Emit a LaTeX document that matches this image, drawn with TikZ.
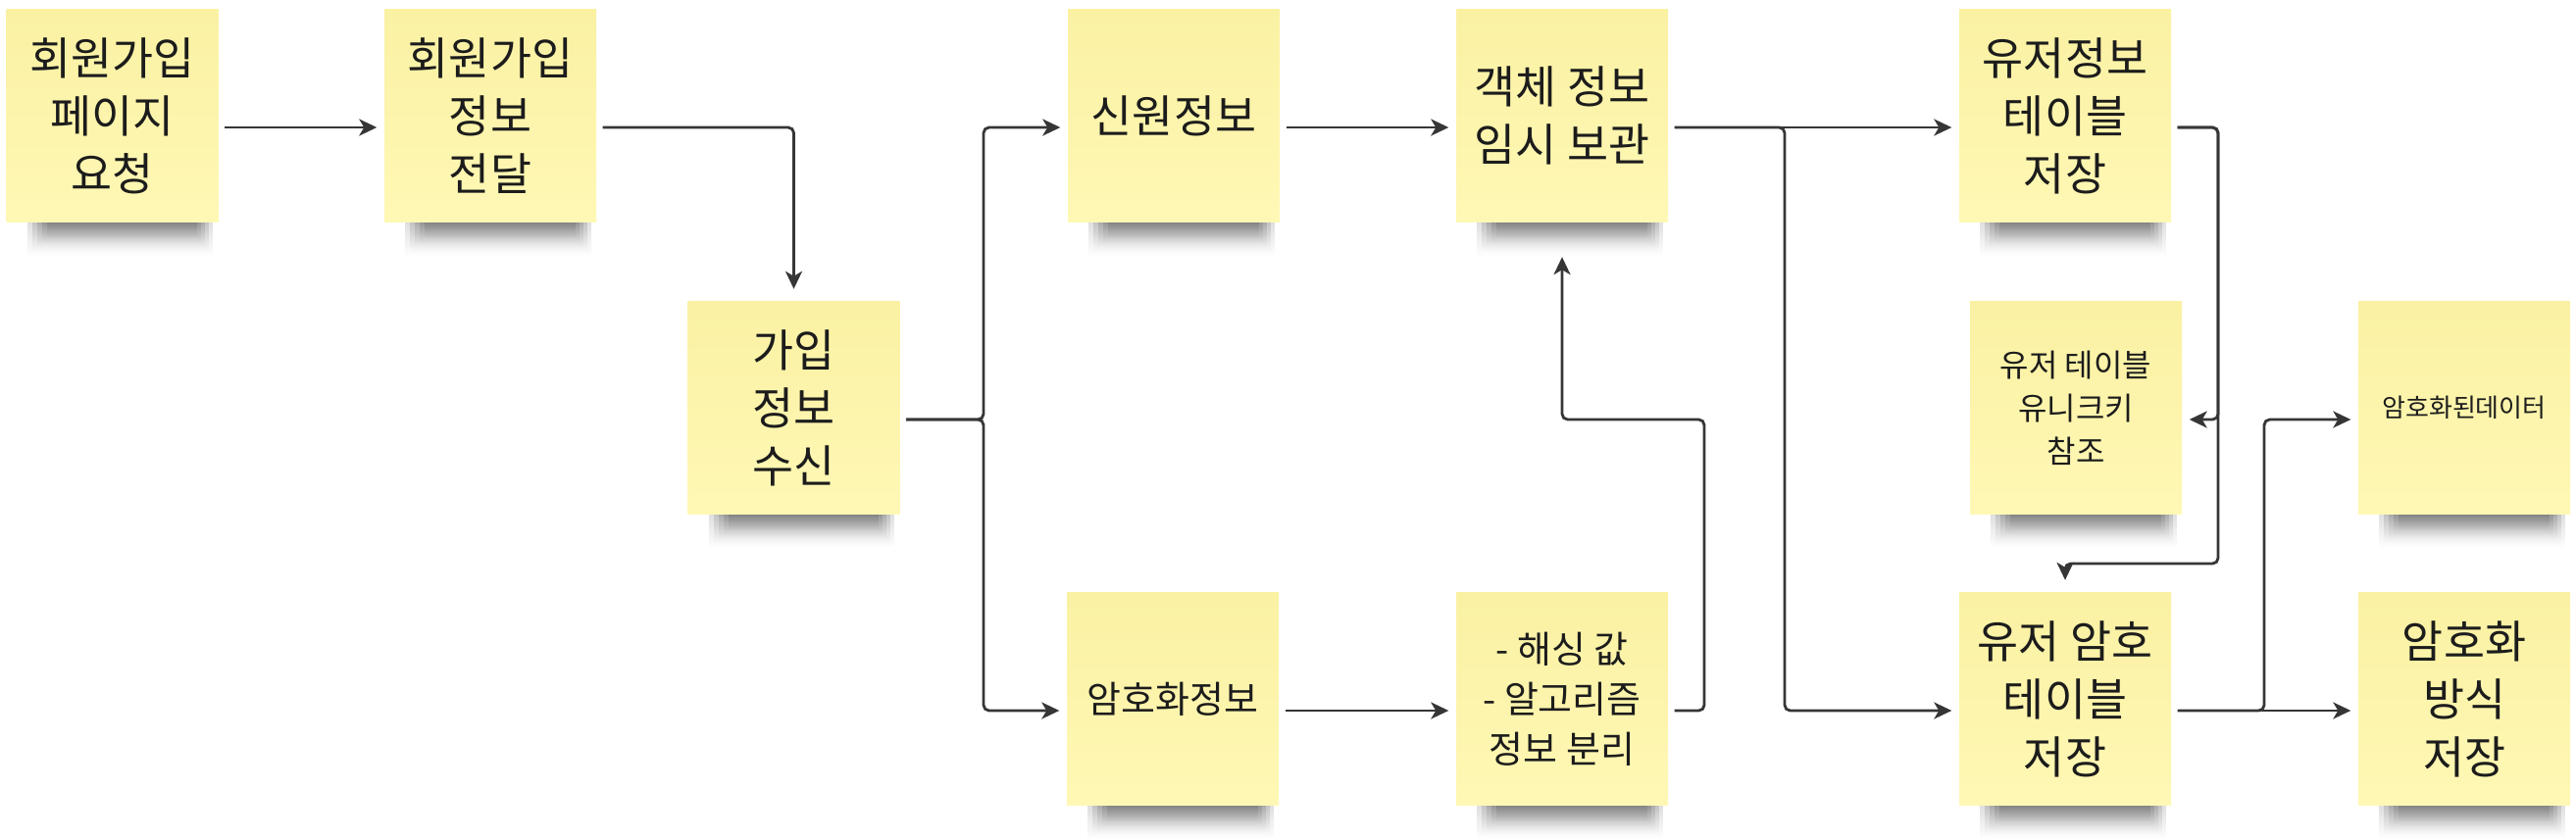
\documentclass[tikz,border=0pt]{standalone}
\usepackage{fontspec}
\setmainfont{Noto Sans CJK KR}
\usetikzlibrary{arrows.meta,backgrounds,fadings}
\definecolor{notetop}{HTML}{FAF1A3}
\definecolor{notebottom}{HTML}{FFF8B5}
\definecolor{linkgray}{HTML}{363636}
\definecolor{inkblack}{HTML}{1C1C1C}
\tikzfading[name=shadowfade, top color=transparent!10, bottom color=transparent!100]

\begin{document}
\begin{tikzpicture}[
    note/.style={rectangle,inner sep=0pt,minimum width=2.16cm,minimum height=2.17cm,
      top color=notetop,bottom color=notebottom,align=center,text=inkblack},
    bigtext/.style={font=\fontsize{13}{16.8}\selectfont},
    midtext/.style={font=\fontsize{10.8}{14.5}\selectfont},
    smalltext/.style={font=\fontsize{9.1}{12.5}\selectfont},
    tinytext/.style={font=\fontsize{7.4}{9}\selectfont},
    link/.style={draw=linkgray,line width=0.8pt,rounded corners=1.6pt,
      -{Stealth[length=1.8mm,width=1.7mm,inset=0.5mm]},shorten <=0.6mm,shorten >=0.7mm},
    noteshadow/.style={fill=black,fill opacity=0.16,path fading=shadowfade}
    ]

    \useasboundingbox (0,0) rectangle (26.27,8.56);

    \node(req) [note,bigtext] at (1.145,7.38) {회원가입\\페이지\\요청};
    \node(send) [note,bigtext] at (5.00,7.38) {회원가입\\정보\\전달};
    \node(recv) [note,bigtext] at (8.095,4.40) {가입\\정보\\수신};
    \node(ident) [note,bigtext] at (11.97,7.38) {신원정보};
    \node(temp) [note,bigtext] at (15.93,7.38) {객체 정보\\임시 보관};
    \node(cipher) [note,midtext] at (11.96,1.43) {암호화정보};
    \node(split) [note,midtext] at (15.93,1.43) {- 해싱 값\\- 알고리즘\\정보 분리};
    \node(usertbl) [note,bigtext] at (21.06,7.38) {유저정보\\테이블\\저장};
    \node(ref) [note,smalltext] at (21.17,4.40) {유저 테이블\\유니크키\\참조};
    \node(enc) [note,tinytext] at (25.13,4.40) {암호화된데이터};
    \node(pwtbl) [note,bigtext] at (21.06,1.43) {유저 암호\\테이블\\저장};
    \node(method) [note,bigtext] at (25.13,1.43) {암호화\\방식\\저장};

    \begin{scope}[on background layer]
      \fill[white] (0,0) rectangle (26.27,8.56);
      \foreach \n in {req,send,recv,ident,temp,cipher,split,usertbl,ref,enc,pwtbl,method}
        \foreach \a in {0,1,2,3,4}
          \fill[noteshadow] ([xshift={2.2mm+\a*0.5mm},yshift=0.5mm]\n.south west)
            rectangle ([xshift={-0.6mm-\a*0.4mm},yshift={-3.4mm+\a*0.45mm}]\n.south east);
    \end{scope}

    \coordinate (fork1) at (10.03,4.28);
    \coordinate (back) at (17.38,4.28);
    \coordinate (fork2) at (18.20,7.26);
    \coordinate (fork3) at (22.62,4.28);
    \coordinate (fork4) at (22.62,2.81);
    \coordinate (fork5) at (23.09,4.28);

    \draw[link] ([yshift=-1.2mm]req.east) -- ([yshift=-1.2mm]send.west);
    \draw[link,shorten >=1.2mm] ([yshift=-1.2mm]send.east) -| (recv.north);

    \draw[link] ([yshift=-1.2mm]recv.east) -- (fork1) |- ([yshift=-1.2mm]ident.west);
    \draw[link] ([yshift=-1.2mm]recv.east) -- (fork1) |- ([yshift=-1.2mm]cipher.west);

    \draw[link] ([yshift=-1.2mm]ident.east) -- ([yshift=-1.2mm]temp.west);
    \draw[link] ([yshift=-1.2mm]cipher.east) -- ([yshift=-1.2mm]split.west);
    \draw[link,shorten >=3.5mm] ([yshift=-1.2mm]split.east) -| (back) -| (temp.south);

    \draw[link] ([yshift=-1.2mm]temp.east) -- ([yshift=-1.2mm]usertbl.west);
    \draw[link] ([yshift=-1.2mm]temp.east) -- (fork2) |- ([yshift=-1.2mm]pwtbl.west);

    \draw[link] ([yshift=-1.2mm]usertbl.east) -| (fork3) -- ([yshift=-1.2mm]ref.east);
    \draw[link,shorten >=1.2mm] ([yshift=-1.2mm]usertbl.east) -| (fork4) -| (pwtbl.north);

    \draw[link] ([yshift=-1.2mm]pwtbl.east) -- ([yshift=-1.2mm]method.west);
    \draw[link] ([yshift=-1.2mm]pwtbl.east) -| (fork5) -- ([yshift=-1.2mm]enc.west);

\end{tikzpicture}
\end{document}
